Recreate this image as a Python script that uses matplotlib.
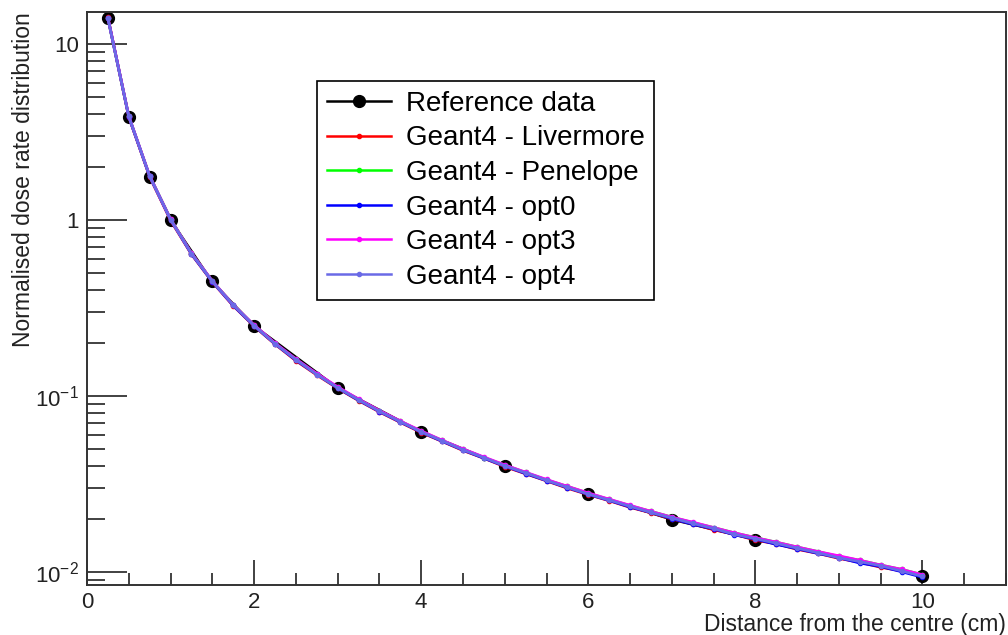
import matplotlib
matplotlib.use("Agg")
import matplotlib.pyplot as plt
from matplotlib.ticker import FixedLocator, FixedFormatter, MultipleLocator, LogLocator, NullFormatter

plt.rcParams['font.family'] = ['Liberation Sans', 'DejaVu Sans']
plt.rcParams['mathtext.fontset'] = 'custom'
plt.rcParams['mathtext.rm'] = 'Liberation Sans'
plt.rcParams['mathtext.it'] = 'Liberation Sans'

# reference measurements
ref_x = [0.25, 0.5, 0.75, 1.0, 1.5, 2.0, 3.0, 4.0, 5.0, 6.0, 7.0, 8.0, 10.0]
ref_y = [13.9, 3.8, 1.75, 1.0, 0.445, 0.25, 0.111, 0.0624, 0.040, 0.0277, 0.0197, 0.0152, 0.0095]

# simulation grid (cm)
sim_x = [0.25, 0.5, 0.75, 1.0, 1.25, 1.5, 1.75, 2.0, 2.25, 2.5, 2.75, 3.0, 3.25, 3.5,
         3.75, 4.0, 4.25, 4.5, 4.75, 5.0, 5.25, 5.5, 5.75, 6.0, 6.25, 6.5, 6.75, 7.0,
         7.25, 7.5, 7.75, 8.0, 8.25, 8.5, 8.75, 9.0, 9.25, 9.5, 9.75, 10.0]

livermore = [14.1, 3.83, 1.75, 0.99, 0.636, 0.442, 0.324, 0.248, 0.196, 0.158, 0.131, 0.110,
             0.0938, 0.0808, 0.0705, 0.0617, 0.0550, 0.0488, 0.0441, 0.0395, 0.0360, 0.0328,
             0.0298, 0.0274, 0.0253, 0.0232, 0.0216, 0.0199, 0.0187, 0.0173, 0.0163, 0.0151,
             0.0144, 0.0134, 0.0127, 0.0119, 0.0113, 0.0106, 0.0101, 0.0094]
penelope = [13.9, 3.86, 1.77, 1.01, 0.643, 0.447, 0.328, 0.251, 0.198, 0.161, 0.133, 0.1115,
            0.0950, 0.0820, 0.0713, 0.0628, 0.0556, 0.0497, 0.0445, 0.0403, 0.0366, 0.0332,
            0.0305, 0.0279, 0.0257, 0.0237, 0.0220, 0.0204, 0.0190, 0.0178, 0.0166, 0.0156,
            0.0147, 0.0138, 0.0130, 0.0122, 0.0116, 0.0109, 0.0103, 0.0096]
opt0 = [14.0, 3.84, 1.76, 1.00, 0.638, 0.444, 0.325, 0.249, 0.197, 0.159, 0.132, 0.1105,
        0.0942, 0.0812, 0.0708, 0.0621, 0.0551, 0.0491, 0.0441, 0.0398, 0.0361, 0.0329,
        0.0300, 0.0275, 0.0254, 0.0233, 0.0217, 0.0200, 0.0186, 0.0175, 0.0162, 0.0153,
        0.0143, 0.0135, 0.0127, 0.0120, 0.0112, 0.0107, 0.0100, 0.0093]
opt3 = [14.0, 3.87, 1.77, 1.005, 0.645, 0.448, 0.328, 0.252, 0.199, 0.1615, 0.1335, 0.1122,
        0.0955, 0.0823, 0.0717, 0.0630, 0.0558, 0.0498, 0.0448, 0.0404, 0.0367, 0.0334,
        0.0305, 0.0280, 0.0258, 0.0238, 0.0220, 0.0204, 0.0191, 0.0178, 0.0166, 0.0156,
        0.0147, 0.0138, 0.0130, 0.0123, 0.0116, 0.0109, 0.0103, 0.0096]
opt4 = [13.95, 3.85, 1.76, 0.998, 0.641, 0.445, 0.327, 0.250, 0.197, 0.160, 0.1318, 0.1108,
        0.0946, 0.0814, 0.0711, 0.0622, 0.0554, 0.0492, 0.0444, 0.0399, 0.0364, 0.0330,
        0.0301, 0.0276, 0.0255, 0.0235, 0.0217, 0.0202, 0.0188, 0.0176, 0.0163, 0.0154,
        0.0145, 0.0136, 0.0128, 0.0120, 0.0114, 0.0108, 0.0101, 0.0094]

series = [("Geant4 - Livermore", livermore, "#ff0000"),
          ("Geant4 - Penelope", penelope, "#00ff00"),
          ("Geant4 - opt0", opt0, "#0000ff"),
          ("Geant4 - opt3", opt3, "#ff00ff"),
          ("Geant4 - opt4", opt4, "#6a6ae6")]

fig = plt.figure(figsize=(10.08, 6.35), dpi=100)
ax = fig.add_axes([87 / 1008, 1 - 585 / 635, (1006 - 87) / 1008, (585 - 12) / 635])

ax.plot(ref_x, ref_y, color="black", lw=1.4, marker="o", ms=8.5, label="Reference data", zorder=2)
for name, vals, col in series:
    ax.plot(sim_x, vals, color=col, lw=2, marker="o", ms=3, label=name, zorder=3)

ax.set_yscale("log")
ax.set_xlim(0, 11)
ax.set_ylim(0.0084, 15.1)

ax.xaxis.set_major_locator(MultipleLocator(2))
ax.xaxis.set_minor_locator(MultipleLocator(0.5))
ax.yaxis.set_major_locator(FixedLocator([0.01, 0.1, 1, 10]))
ax.yaxis.set_major_formatter(FixedFormatter(["$10^{-2}$", "$10^{-1}$", "1", "10"]))
ax.yaxis.set_minor_locator(LogLocator(base=10, subs=range(2, 10)))
ax.yaxis.set_minor_formatter(NullFormatter())

ax.tick_params(axis="both", which="both", direction="in", top=False, right=False,
               colors="#333333", labelcolor="#222222", labelsize=16, width=1.3)
ax.tick_params(axis="y", which="major", length=29, pad=6)
ax.tick_params(axis="y", which="minor", length=13)
ax.tick_params(axis="x", which="major", length=18, pad=5)
ax.tick_params(axis="x", which="minor", length=9)
for sp in ax.spines.values():
    sp.set_linewidth(1.4)
    sp.set_color("#333333")

ax.set_xlabel("Distance from the centre (cm)", fontsize=16.5, color="#222222", loc="right", labelpad=0)
ax.set_ylabel("Normalised dose rate distribution", fontsize=16.5, color="#222222", loc="top", labelpad=0)

leg = ax.legend(loc="upper left", bbox_to_anchor=(317 / 1008, 1 - 81 / 635),
                bbox_transform=fig.transFigure, fontsize=20, frameon=True, fancybox=False,
                framealpha=1, edgecolor="black", borderpad=0.35, labelspacing=0.31,
                handlelength=2.3, handletextpad=0.55, borderaxespad=0)
leg.get_frame().set_linewidth(1.2)
for h in leg.legend_handles:
    h.set_linewidth(1.8)

fig.savefig("out.png", dpi=100)
